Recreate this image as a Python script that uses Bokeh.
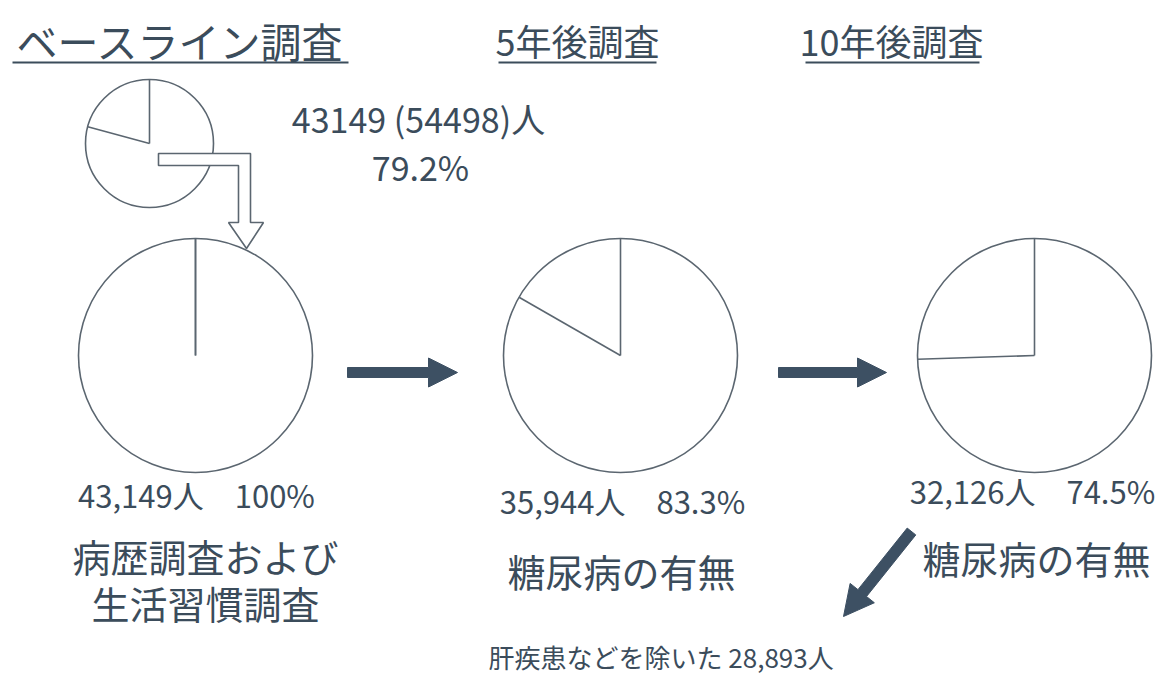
import numpy as np
from bokeh.plotting import figure
from bokeh.models import Range1d, ColumnDataSource
from bokeh.core.properties import value
from bokeh.embed import file_html
from bokeh.resources import INLINE

# --- survey data -------------------------------------------------------
stage_titles = ["ベースライン調査", "5年後調査", "10年後調査"]
stage_counts = ["43,149人　100%", "35,944人　83.3%", "32,126人　74.5%"]
stage_share = [100.0, 83.3, 74.5]          # % of baseline participants
stage_notes = [["病歴調査および", "生活習慣調査"], ["糖尿病の有無"], ["糖尿病の有無"]]

response_share = [79.2]                     # baseline response rate
response_label = ["43149 (54498)人", "79.2%"]
final_label = ["肝疾患などを除いた 28,893人"]

# --- layout (pixel space) ---------------------------------------------
W, H = 1164, 680
FONT = value("Noto Sans CJK JP")
TXT = "#3b4c5b"
LINE = "#5b6670"
DARK = "#3d5063"

pie_x = [195, 620, 1034]
pie_y = [355, 355, 355]
pie_r = 117
small_x, small_y, small_r = 149, 143, 64

p = figure(width=W, height=H, x_range=Range1d(0, W), y_range=Range1d(H, 0),
           x_axis_location=None, y_axis_location=None,
           toolbar_location=None, output_backend="svg",
           min_border=0, outline_line_color=None,
           background_fill_color="white", border_fill_color="white")
p.grid.visible = False


def pie_outline(cx, cy, r, share):
    """Radii bounding the missing share, measured from 12 o'clock counter-clockwise."""
    theta = np.deg2rad(90 + (100 - share) * 3.6)
    xs0 = [cx, cx]
    ys0 = [cy, cy]
    xs1 = [cx, cx + r * np.cos(theta)]
    ys1 = [cy - r, cy - r * np.sin(theta)]
    return xs0, ys0, xs1, ys1


# small baseline pie (response rate)
p.circle(x=[small_x], y=[small_y], radius=small_r, fill_color="white",
         line_color=LINE, line_width=1.6)
sx0, sy0, sx1, sy1 = pie_outline(small_x, small_y, small_r, response_share[0])
p.segment(x0=sx0, y0=sy0, x1=sx1, y1=sy1, line_color=LINE, line_width=1.6)

# three stage pies
p.circle(x=pie_x, y=pie_y, radius=pie_r, fill_color="white",
         line_color=LINE, line_width=1.6)
for cx, cy, share in zip(pie_x, pie_y, stage_share):
    x0, y0, x1, y1 = pie_outline(cx, cy, pie_r, share)
    p.segment(x0=x0, y0=y0, x1=x1, y1=y1, line_color=LINE, line_width=1.6)

# hollow elbow arrow from the small pie to the baseline pie
elbow_x = [158, 250, 250, 263, 246, 228, 238, 238, 158]
elbow_y = [153, 153, 222, 222, 248, 222, 222, 165, 165]
p.patch(elbow_x, elbow_y, fill_color="white", line_color=LINE, line_width=1.6)


def block_arrow(x0, y0, x1, y1, shaft=10, head_len=29, head_w=29):
    d = np.array([x1 - x0, y1 - y0], dtype=float)
    u = d / np.hypot(*d)
    n = np.array([-u[1], u[0]])
    base = np.array([x0, y0])
    tip = np.array([x1, y1])
    neck = tip - u * head_len
    pts = [base + n * shaft / 2, neck + n * shaft / 2, neck + n * head_w / 2, tip,
           neck - n * head_w / 2, neck - n * shaft / 2, base - n * shaft / 2]
    return [q[0] for q in pts], [q[1] for q in pts]


arrows = [block_arrow(347, 372, 457, 372), block_arrow(778, 372, 886, 372),
          block_arrow(911, 531, 843, 616, shaft=11, head_len=30, head_w=31)]
p.patches(xs=[a[0] for a in arrows], ys=[a[1] for a in arrows],
          fill_color=DARK, line_color=DARK, line_width=1)

# titles with underlines
title_src = ColumnDataSource(dict(x=[180, 577, 891], y=[39, 39, 39], t=stage_titles,
                                  s=["41px", "36px", "36px"]))
p.text(x="x", y="y", text="t", source=title_src, text_font=FONT, text_font_size="s",
       text_color=TXT, text_align="center", text_baseline="middle")
p.segment(x0=[12, 498, 805], y0=[62, 62, 62], x1=[348, 656, 979], y1=[62, 62, 62],
          line_color=TXT, line_width=2.2)

# response-rate label
p.text(x=[418, 420], y=[118, 166], text=response_label, text_font=FONT,
       text_font_size="34px", text_color=TXT, text_align="center", text_baseline="middle")

# counts under each pie
p.text(x=[196, 622, 1032], y=[494, 500, 490], text=stage_counts, text_font=FONT,
       text_font_size="31px", text_color=TXT, text_align="center", text_baseline="middle")

# notes, one glyph row per line
note_x = [205, 621, 1036]
note_y = [555, 570, 557]
nx, ny, nt = [], [], []
for x, y, lines in zip(note_x, note_y, stage_notes):
    for i, line in enumerate(lines):
        nx.append(x)
        ny.append(y + 47 * i)
        nt.append(line)
p.text(x=nx, y=ny, text=nt, text_font=FONT, text_font_size="38px", text_color=TXT,
       text_align="center", text_baseline="middle")

p.text(x=[488], y=[656], text=final_label, text_font=FONT, text_font_size="26px",
       text_color=TXT, text_align="left", text_baseline="middle")

open("out.html", "w").write(file_html(p, INLINE))
